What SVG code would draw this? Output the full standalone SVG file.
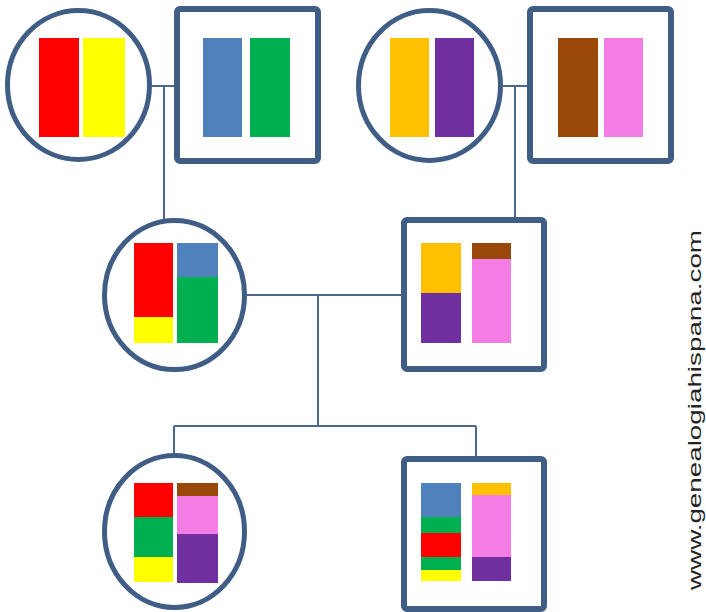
<svg xmlns="http://www.w3.org/2000/svg" width="706" height="612" viewBox="0 0 706 612">
<style>
.f{fill:#fff;stroke:#3f5d85;stroke-width:5}
.m{fill:#fff;stroke:#3f5d85;stroke-width:6}
.c{fill:none;stroke:#4a6890;stroke-width:2}
.r{fill:#ff0000}.y{fill:#ffff00}.b{fill:#4f81bd}.g{fill:#00b050}
.o{fill:#ffc000}.p{fill:#7030a0}.n{fill:#99480a}.k{fill:#f47de4}
.t{font-family:"Liberation Sans",Arial,sans-serif;font-size:18px;fill:#222}
</style>
<rect width="706" height="612" fill="#fff"/>
<g id="connectors">
<path class="c" d="M152 86H174M164 86V219"/>
<path class="c" d="M503 86H527M515 86V218"/>
<path class="c" d="M247 295H401M318 295V426M174 426H476M174 426V453M476 426V456"/>
</g>
<g id="gf1">
<ellipse class="f" cx="78.5" cy="85" rx="71" ry="74.5"/>
<rect class="r" x="39" y="38" width="40" height="99"/>
<rect class="y" x="83" y="38" width="42" height="99"/>
</g>
<g id="gm1">
<rect class="m" x="177" y="9" width="141" height="152" rx="3"/>
<rect class="b" x="203" y="38" width="39" height="99"/>
<rect class="g" x="250" y="38" width="40" height="99"/>
</g>
<g id="gf2">
<ellipse class="f" cx="429.5" cy="85.5" rx="71" ry="75"/>
<rect class="o" x="390" y="38" width="39" height="99"/>
<rect class="p" x="435" y="38" width="39" height="99"/>
</g>
<g id="gm2">
<rect class="m" x="530" y="9" width="141" height="152" rx="3"/>
<rect class="n" x="558" y="38" width="40" height="99"/>
<rect class="k" x="604" y="38" width="39" height="99"/>
</g>
<g id="mother">
<ellipse class="f" cx="174.5" cy="295" rx="70" ry="74.5"/>
<rect class="r" x="134" y="243" width="39" height="74"/>
<rect class="y" x="134" y="317" width="39" height="26"/>
<rect class="b" x="177" y="243" width="41" height="34"/>
<rect class="g" x="177" y="277" width="41" height="66"/>
</g>
<g id="father">
<rect class="m" x="404" y="220" width="140" height="149" rx="3"/>
<rect class="o" x="421" y="243" width="40" height="50"/>
<rect class="p" x="421" y="293" width="40" height="50"/>
<rect class="n" x="472" y="243" width="39" height="16"/>
<rect class="k" x="472" y="259" width="39" height="84"/>
</g>
<g id="daughter">
<ellipse class="f" cx="174.5" cy="531.5" rx="70" ry="76"/>
<rect class="r" x="134" y="483" width="39" height="34"/>
<rect class="g" x="134" y="517" width="39" height="40"/>
<rect class="y" x="134" y="557" width="39" height="25"/>
<rect class="n" x="177" y="483" width="41" height="13"/>
<rect class="k" x="177" y="496" width="41" height="38"/>
<rect class="p" x="177" y="534" width="41" height="49"/>
</g>
<g id="son">
<rect class="m" x="404" y="459" width="140" height="150" rx="3"/>
<rect class="b" x="421" y="483" width="40" height="34"/>
<rect class="g" x="421" y="517" width="40" height="16"/>
<rect class="r" x="421" y="533" width="40" height="24"/>
<rect class="g" x="421" y="557" width="40" height="13"/>
<rect class="y" x="421" y="570" width="40" height="11"/>
<rect class="o" x="472" y="483" width="39" height="12"/>
<rect class="k" x="472" y="495" width="39" height="62"/>
<rect class="p" x="472" y="557" width="39" height="24"/>
</g>
<text class="t" transform="translate(701 590) rotate(-90)" textLength="360" lengthAdjust="spacingAndGlyphs">www.genealogiahispana.com</text>
</svg>
